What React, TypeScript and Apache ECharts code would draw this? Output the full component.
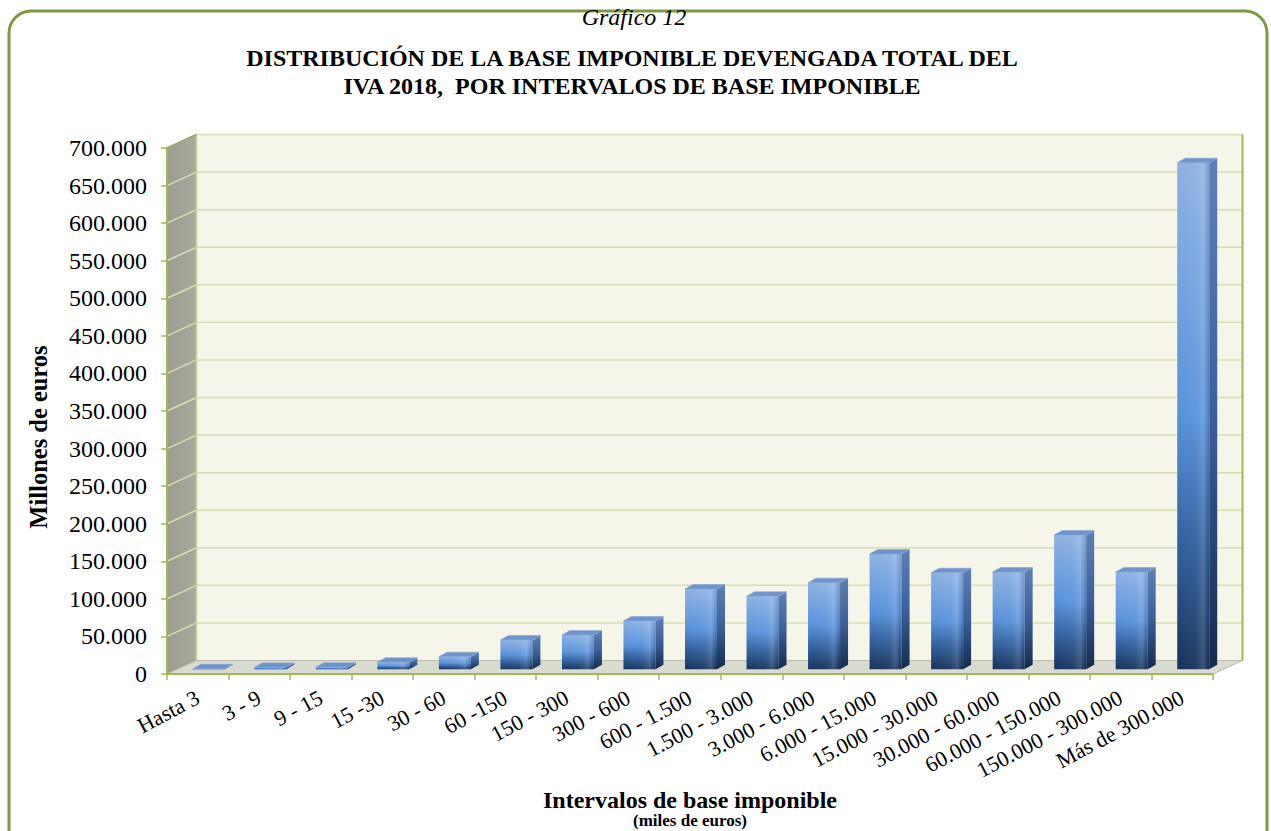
import React, { useEffect, useRef } from "react";
import * as echarts from "echarts";

const categories = [
  "Hasta 3", "3 - 9", "9 - 15", "15 -30", "30 - 60", "60 -150", "150 - 300", "300 - 600",
  "600 - 1.500", "1.500 - 3.000", "3.000 - 6.000", "6.000 - 15.000", "15.000 - 30.000",
  "30.000 - 60.000", "60.000 - 150.000", "150.000 - 300.000", "Más de 300.000",
];
const values = [
  600, 2500, 2800, 9300, 16800, 39000, 45600, 64300, 106900, 97200, 115300, 153400,
  128600, 129500, 178700, 129500, 674200,
];
const yMin = 0;
const yMax = 700000;
const yInterval = 50000;

const titleTop = "Gráfico 12";
const titleLine1 = "DISTRIBUCIÓN DE LA BASE IMPONIBLE DEVENGADA TOTAL DEL";
const titleLine2 = "IVA 2018,  POR INTERVALOS DE BASE IMPONIBLE";
const yName = "Millones de euros";
const xName = "Intervalos de base imponible";
const xSubName = "(miles de euros)";

const SERIF = '"Liberation Serif", "Times New Roman", serif';
const GREEN = "#9bbb59";

// 3D geometry
const WDX = 29.5;
const WDY = -13.5;
const BOX = 11;
const BOY = -4.7;
const BDX = 8;
const BDY = -4.5;

const fmt = (v: number) => String(v).replace(/\B(?=(\d{3})+(?!\d))/g, ".");

export default function App() {
  const ref = useRef<HTMLDivElement>(null);
  useEffect(() => {
    if (!ref.current) return;
    const chart = echarts.init(ref.current, undefined, { renderer: "svg" });
    const ticks: number[] = [];
    for (let t = yMin + yInterval; t <= yMax; t += yInterval) ticks.push(t);

    const option: any = {
      animation: false,
      backgroundColor: "#ffffff",
      textStyle: { fontFamily: SERIF },
      grid: { left: 167, right: 58, top: 148, bottom: 157, containLabel: false },
      graphic: [
        {
          type: "rect",
          silent: true,
          z: -10,
          shape: { x: 9, y: 11, width: 1258, height: 850, r: 22 },
          style: { fill: "none", stroke: "#7c9a42", lineWidth: 3 },
        },
        {
          type: "text",
          x: 634,
          y: 17,
          style: {
            text: titleTop, align: "center", verticalAlign: "middle",
            font: `italic 24px ${SERIF}`, fill: "#000",
          },
        },
        {
          type: "text",
          x: 632,
          y: 58,
          style: {
            text: titleLine1, align: "center", verticalAlign: "middle",
            font: `bold 24px ${SERIF}`, fill: "#000",
          },
        },
        {
          type: "text",
          x: 632,
          y: 86,
          style: {
            text: titleLine2, align: "center", verticalAlign: "middle",
            font: `bold 24px ${SERIF}`, fill: "#000",
          },
        },
        {
          type: "text",
          x: 38,
          y: 437,
          rotation: Math.PI / 2,
          style: {
            text: yName, align: "center", verticalAlign: "middle",
            font: `bold 24.5px ${SERIF}`, fill: "#000",
          },
        },
        {
          type: "text",
          x: 690,
          y: 820,
          style: {
            text: xSubName, align: "center", verticalAlign: "middle",
            font: `bold 17px ${SERIF}`, fill: "#000",
          },
        },
      ],
      xAxis: {
        type: "category",
        data: categories,
        name: xName,
        nameLocation: "middle",
        nameGap: 114,
        nameTextStyle: { fontFamily: SERIF, fontWeight: "bold", fontSize: 24, color: "#000" },
        axisLine: { show: true, lineStyle: { color: GREEN, width: 2 } },
        axisTick: { show: true, length: 6, lineStyle: { color: GREEN, width: 1.5 } },
        axisLabel: {
          interval: 0, rotate: 28, fontSize: 22, color: "#000", fontFamily: SERIF, margin: 22,
        },
        splitLine: { show: false },
        z: 5,
      },
      yAxis: {
        type: "value",
        min: yMin,
        max: yMax,
        interval: yInterval,
        axisLine: { show: true, lineStyle: { color: GREEN, width: 2 } },
        axisTick: { show: true, length: 6, lineStyle: { color: GREEN, width: 1.5 } },
        axisLabel: {
          fontSize: 24, color: "#000", fontFamily: SERIF, margin: 20,
          formatter: (v: number) => fmt(v),
        },
        splitLine: { show: false },
        z: 5,
      },
      series: [
        {
          type: "custom",
          z: 1,
          silent: true,
          clip: false,
          data: [[0, 0]],
          renderItem: (params: any, api: any) => {
            const cs = params.coordSys;
            const x0 = cs.x, x1 = cs.x + cs.width, yT = cs.y, yB = cs.y + cs.height;
            const children: any[] = [];
            children.push({
              type: "polygon",
              shape: { points: [[x0 + WDX, yT + WDY], [x1 + WDX, yT + WDY], [x1 + WDX, yB + WDY], [x0 + WDX, yB + WDY]] },
              style: { fill: "#f5f5e9", stroke: "#e4e6d6", lineWidth: 1 },
            });
            children.push({
              type: "polygon",
              shape: { points: [[x0, yT], [x0 + WDX, yT + WDY], [x0 + WDX, yB + WDY], [x0, yB]] },
              style: {
                fill: { type: "linear", x: 0, y: 0, x2: 1, y2: 0, colorStops: [
                  { offset: 0, color: "#9c9d90" }, { offset: 1, color: "#a9aa9d" },
                ] },
              },
            });
            children.push({
              type: "polygon",
              shape: { points: [[x0, yB], [x0 + WDX, yB + WDY], [x1 + WDX, yB + WDY], [x1, yB]] },
              style: { fill: "#d9dad0", stroke: "#b9bab0", lineWidth: 1 },
            });
            for (const t of ticks) {
              const y = api.coord([0, t])[1];
              children.push({
                type: "line",
                shape: { x1: x0 + WDX, y1: y + WDY, x2: x1 + WDX, y2: y + WDY },
                style: { stroke: "#d6dfb4", lineWidth: 1.5 },
              });
              children.push({
                type: "line",
                shape: { x1: x0, y1: y, x2: x0 + WDX, y2: y + WDY },
                style: { stroke: "#d6dfb4", lineWidth: 1.5 },
              });
            }
            children.push({
              type: "line",
              shape: { x1: x0 + WDX, y1: yT + WDY, x2: x0 + WDX, y2: yB + WDY },
              style: { stroke: "#c9d79e", lineWidth: 1.5 },
            });
            children.push({
              type: "line",
              shape: { x1: x1 + WDX, y1: yT + WDY, x2: x1 + WDX, y2: yB + WDY },
              style: { stroke: GREEN, lineWidth: 2 },
            });
            children.push({
              type: "line",
              shape: { x1: x0, y1: yT, x2: x0 + WDX, y2: yT + WDY },
              style: { stroke: "#8fa65a", lineWidth: 1.5 },
            });
            return { type: "group", children };
          },
        },
        {
          type: "custom",
          z: 2,
          clip: false,
          data: values.map((v, i) => [i, v]),
          renderItem: (params: any, api: any) => {
            const i = api.value(0);
            const v = api.value(1);
            const base = api.coord([i, 0]);
            const top = api.coord([i, v]);
            const band = api.size([1, 0])[0];
            const w = band * 0.52;
            const cx = base[0] + BOX;
            const xl = cx - w / 2, xr = cx + w / 2;
            const yb = base[1] + BOY, yt = top[1] + BOY;
            const h = Math.max(yb - yt, 0.3);
            return {
              type: "group",
              children: [
                {
                  type: "rect",
                  shape: { x: xl, y: yb - h, width: w, height: h },
                  style: {
                    fill: { type: "linear", x: 0, y: 0, x2: 0, y2: 1, colorStops: [
                      { offset: 0, color: "#8db2e3" },
                      { offset: 0.5, color: "#5891da" },
                      { offset: 0.75, color: "#32609e" },
                      { offset: 1, color: "#17325b" },
                    ] },
                  },
                },
                {
                  type: "rect",
                  shape: { x: xl, y: yb - h, width: w, height: h },
                  style: {
                    fill: { type: "linear", x: 0, y: 0, x2: 1, y2: 0, colorStops: [
                      { offset: 0, color: "rgba(255,255,255,0)" },
                      { offset: 0.6, color: "rgba(255,255,255,0.05)" },
                      { offset: 0.82, color: "rgba(255,255,255,0.16)" },
                      { offset: 1, color: "rgba(0,0,30,0.12)" },
                    ] },
                  },
                },
                {
                  type: "polygon",
                  shape: { points: [[xr, yb - h], [xr + BDX, yb - h + BDY], [xr + BDX, yb + BDY], [xr, yb]] },
                  style: {
                    fill: { type: "linear", x: 0, y: 0, x2: 0, y2: 1, colorStops: [
                      { offset: 0, color: "#5e80b4" },
                      { offset: 0.5, color: "#3b6098" },
                      { offset: 1, color: "#142a4c" },
                    ] },
                  },
                },
                {
                  type: "polygon",
                  shape: { points: [[xl, yb - h], [xl + BDX, yb - h + BDY], [xr + BDX, yb - h + BDY], [xr, yb - h]] },
                  style: { fill: "#6f93ca", stroke: "#86a6d6", lineWidth: 0.6 },
                },
              ],
            };
          },
        },
      ],
    };
    chart.setOption(option);
    return () => chart.dispose();
  }, []);
  return (
    <div
      ref={ref}
      style={{ position: "absolute", left: 0, top: 0, width: 1271, height: 831 }}
    />
  );
}
